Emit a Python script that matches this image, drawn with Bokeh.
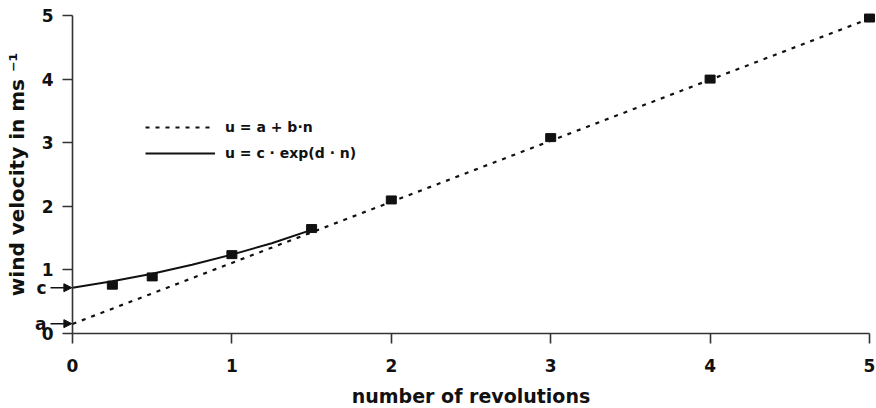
from bokeh.plotting import figure
from bokeh.models import Range1d, Legend, LegendItem, Label, Arrow, NormalHead, FixedTicker
from bokeh.embed import file_html
from bokeh.resources import INLINE

# measured wind velocity vs number of revolutions
n_obs = [0.25, 0.5, 1.0, 1.5, 2.0, 3.0, 4.0, 5.0]
u_obs = [0.76, 0.89, 1.24, 1.65, 2.10, 3.08, 4.00, 4.96]

# linear fit u = a + b*n
lin_n = [0.0, 5.0]
lin_u = [0.15, 4.95]

# exponential fit u = c*exp(d*n)
exp_n = [0.0, 0.25, 0.5, 0.75, 1.0, 1.25, 1.5]
exp_u = [0.72, 0.82, 0.94, 1.08, 1.24, 1.42, 1.63]

# marked intercepts
c_val = 0.72
a_val = 0.155

x_ticks = [0, 1, 2, 3, 4, 5]
y_ticks = [0, 1, 2, 3, 4, 5]

FONT = "DejaVu Sans"
INK = "#111111"
AX = "#333333"

p = figure(width=876, height=408, output_backend="svg", toolbar_location=None,
           x_range=Range1d(-0.4517, 5.0439), y_range=Range1d(-1.1792, 5.2358),
           min_border_left=0, min_border_top=0, min_border_bottom=0, min_border_right=0)
p.outline_line_color = None
p.grid.visible = False
p.background_fill_color = "white"

for ax in (p.xaxis[0], p.yaxis[0]):
    ax.fixed_location = 0
    ax.bounds = (0, 5)
    ax.axis_line_color = AX
    ax.axis_line_width = 1.6
    ax.major_tick_line_color = AX
    ax.major_tick_line_width = 1.6
    ax.major_tick_out = 10
    ax.major_tick_in = 0
    ax.minor_tick_line_color = None
    ax.major_label_text_font = FONT
    ax.major_label_text_font_style = "bold"
    ax.major_label_text_font_size = "17px"
    ax.major_label_text_color = INK
    ax.axis_label_text_font = FONT
    ax.axis_label_text_font_style = "bold"
    ax.axis_label_text_color = INK

p.xaxis[0].axis_label_text_font_size = "19px"
p.yaxis[0].axis_label_text_font_size = "20px"
p.xaxis[0].ticker = FixedTicker(ticks=x_ticks)
p.yaxis[0].ticker = FixedTicker(ticks=y_ticks)
p.xaxis[0].axis_label = "number of revolutions"
p.yaxis[0].axis_label = "wind velocity in ms \u207b\u00b9"
p.xaxis[0].major_label_standoff = 15
p.yaxis[0].major_label_standoff = 9
p.xaxis[0].axis_label_standoff = 10
p.yaxis[0].axis_label_standoff = 10

r_lin = p.line(lin_n, lin_u, line_color=INK, line_width=2.2, line_dash="4 6")
r_exp = p.line(exp_n, exp_u, line_color=INK, line_width=2)
p.rect(n_obs, u_obs, width=10, height=8, width_units="screen", height_units="screen",
       fill_color=INK, line_color=INK)

legend = Legend(items=[LegendItem(label="u = a + b\u00b7n", renderers=[r_lin]),
                       LegendItem(label="u = c \u00b7 exp(d \u00b7 n)", renderers=[r_exp])],
                location=(145, 245), orientation="vertical",
                glyph_width=70, glyph_height=20, label_height=20, spacing=6,
                label_standoff=10, padding=0, margin=0,
                border_line_color=None, background_fill_alpha=0,
                label_text_font=FONT, label_text_font_style="bold",
                label_text_font_size="14px", label_text_color=INK)
p.add_layout(legend, "center")

for txt, yv in (("c", c_val), ("a", a_val)):
    p.add_layout(Label(x=-0.163, y=yv, text=txt, text_font=FONT, text_font_style="bold",
                       text_font_size="17px", text_color=INK, text_align="right",
                       text_baseline="middle"))
    p.add_layout(Arrow(x_start=-0.138, y_start=yv, x_end=-0.004, y_end=yv,
                       line_color=INK, line_width=1.5,
                       end=NormalHead(size=8, fill_color=INK, line_color=INK)))

open("out.html", "w").write(file_html(p, INLINE))
